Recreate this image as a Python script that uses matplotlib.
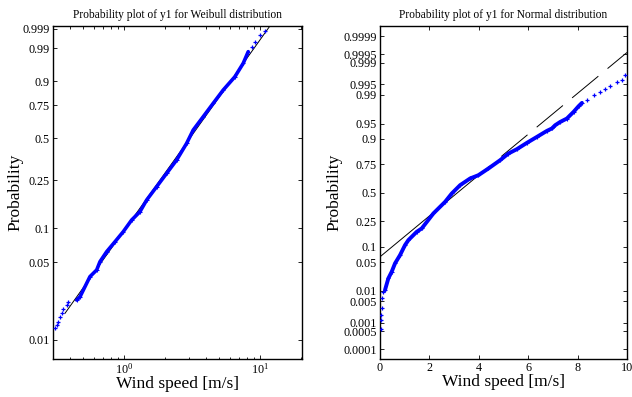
import math
import numpy as np
import matplotlib
matplotlib.use("Agg")
import matplotlib.pyplot as plt
from matplotlib.ticker import FixedLocator, FixedFormatter, NullLocator, LogLocator

# ---------------- data ----------------
# Weibull probability plot: sorted wind speeds [m/s] and plotting probabilities
weib_low_x = [0.311, 0.320, 0.329, 0.338, 0.348, 0.358, 0.379, 0.390]
weib_low_p = [0.0128, 0.0137, 0.0146, 0.0163, 0.0175, 0.0190, 0.0207, 0.0222]
weib_x = [0.449, 0.475, 0.562, 0.630, 0.666, 0.746, 0.859, 0.988, 1.139, 1.311,
          1.469, 1.740, 2.061, 2.441, 2.891, 3.233, 3.829, 4.535, 5.373, 6.550,
          7.538, 8.204]
weib_p = [0.0230, 0.0246, 0.0373, 0.0428, 0.0507, 0.0622, 0.0761, 0.0931, 0.1174, 0.1382,
          0.1732, 0.2225, 0.2834, 0.3565, 0.4651, 0.5630, 0.6654, 0.7655, 0.8530, 0.9208,
          0.9653, 0.9863]
weib_high_x = [8.70, 9.19, 10.0, 10.88]
weib_high_p = [0.9910, 0.99496, 0.99774, 0.99873]
weib_scale = 3.76      # fitted Weibull A
weib_shape = 1.739     # fitted Weibull B
weib_line_x = [0.368, 13.0]

# Normal probability plot
norm_low_x = [0.05, 0.05, 0.06, 0.08, 0.10, 0.13]
norm_low_p = [0.0006, 0.00126, 0.00185, 0.0031, 0.0062, 0.0092]
norm_x = [0.203, 0.338, 0.473, 0.608, 0.811, 1.013, 1.149, 1.486, 1.690, 2.161,
          2.635, 2.906, 3.243, 3.648, 3.985, 4.390, 4.864, 5.200, 5.540,
          5.945, 6.351, 6.756, 6.958, 7.093, 7.296, 7.566, 7.836, 8.039, 8.175]
norm_p = [0.0105, 0.0211, 0.0304, 0.0469, 0.0696, 0.1073, 0.1308, 0.1773, 0.199, 0.3124,
          0.4154, 0.4943, 0.5725, 0.6337, 0.6628, 0.7187, 0.7812, 0.825, 0.8502,
          0.8824, 0.9081, 0.9295, 0.9369, 0.946, 0.954, 0.9613, 0.9728, 0.9802, 0.9837]
norm_high_x = [8.38, 8.65, 8.92, 9.12, 9.32, 9.59, 9.80, 9.93]
norm_high_p = [0.9861, 0.9898, 0.9917, 0.9934, 0.9943, 0.9958, 0.99645, 0.9974]
norm_mu = 3.13
norm_sigma = 2.06
norm_solid_x = [0.0, 4.43]
norm_dash_x = [4.91, 10.0]

weib_yticks = [0.01, 0.05, 0.1, 0.25, 0.5, 0.75, 0.9, 0.99, 0.999]
weib_yticklabels = ["0.01", "0.05", "0.1", "0.25", "0.5", "0.75", "0.9", "0.99", "0.999"]
norm_yticks = [0.0001, 0.0005, 0.001, 0.005, 0.01, 0.05, 0.1, 0.25, 0.5, 0.75, 0.9,
               0.95, 0.99, 0.995, 0.999, 0.9995, 0.9999]
norm_yticklabels = ["0.0001", "0.0005", "0.001", "0.005", "0.01", "0.05", "0.1", "0.25",
                    "0.5", "0.75", "0.9", "0.95", "0.99", "0.995", "0.999", "0.9995", "0.9999"]
norm_xticks = [0, 2, 4, 6, 8, 10]

titles = ["Probability plot of y1 for Weibull distribution",
          "Probability plot of y1 for Normal distribution"]
xlabel = "Wind speed [m/s]"
ylabel = "Probability"

# ---------------- scales ----------------
def _clip(p):
    return np.clip(np.asarray(p, dtype=float), 1e-12, 1 - 1e-12)

def weib_fwd(p):
    p = _clip(p)
    return np.log(-np.log(1 - p))

def weib_inv(w):
    w = np.asarray(w, dtype=float)
    return 1 - np.exp(-np.exp(w))

_erf = np.frompyfunc(math.erf, 1, 1)

def norm_cdf(z):
    z = np.asarray(z, dtype=float)
    e = np.asarray(_erf(z / math.sqrt(2)), dtype=float)
    return 0.5 * (1 + e)

def norm_ppf(p):
    p = np.atleast_1d(_clip(p))
    a = [-3.969683028665376e+01, 2.209460984245205e+02, -2.759285104469687e+02,
         1.383577518672690e+02, -3.066479806614716e+01, 2.506628277459239e+00]
    b = [-5.447609879822406e+01, 1.615858368580409e+02, -1.556989798598866e+02,
         6.680131188771972e+01, -1.328068155288572e+01]
    c = [-7.784894002430293e-03, -3.223964580411365e-01, -2.400758277161838e+00,
         -2.549732539343734e+00, 4.374664141464968e+00, 2.938163982698783e+00]
    d = [7.784695709041462e-03, 3.224671290700398e-01, 2.445134137142996e+00,
         3.754408661907416e+00]
    plow = 0.02425
    z = np.empty_like(p)
    lo = p < plow
    hi = p > 1 - plow
    mid = ~(lo | hi)
    q = np.sqrt(-2 * np.log(p[lo]))
    z[lo] = (((((c[0]*q+c[1])*q+c[2])*q+c[3])*q+c[4])*q+c[5]) / ((((d[0]*q+d[1])*q+d[2])*q+d[3])*q+1)
    q = np.sqrt(-2 * np.log(1 - p[hi]))
    z[hi] = -(((((c[0]*q+c[1])*q+c[2])*q+c[3])*q+c[4])*q+c[5]) / ((((d[0]*q+d[1])*q+d[2])*q+d[3])*q+1)
    q = p[mid] - 0.5
    r = q * q
    z[mid] = (((((a[0]*r+a[1])*r+a[2])*r+a[3])*r+a[4])*r+a[5])*q / (((((b[0]*r+b[1])*r+b[2])*r+b[3])*r+b[4])*r+1)
    return z

# ---------------- style ----------------
plt.rcParams['font.family'] = ['Liberation Serif', 'DejaVu Serif']
plt.rcParams['mathtext.fontset'] = 'stix'
plt.rcParams['lines.scale_dashes'] = False

DPI = 100
fig = plt.figure(figsize=(632 / DPI, 397 / DPI), dpi=DPI)
W, H = 632, 397
ax1 = fig.add_axes([53 / W, 1 - 359 / H, 249 / W, 333 / H])
ax2 = fig.add_axes([380 / W, 1 - 359 / H, 247 / W, 333 / H])

BLUE = (0, 0, 1)
tick_fs = 8.7
label_fs = 12.5
title_fs = 8.3

def style_axes(ax):
    for s in ax.spines.values():
        s.set_linewidth(1.0)
    ax.tick_params(which='both', direction='in', top=True, right=True,
                   labelsize=tick_fs, width=0.6, pad=2.5)
    ax.tick_params(which='major', length=3.2)
    ax.tick_params(which='minor', length=1.8)

# ---------------- left: Weibull ----------------
ax1.set_xscale('log')
ax1.set_yscale('function', functions=(weib_fwd, weib_inv))
ax1.set_xlim(0.3006, 20.4)
ax1.set_ylim(float(weib_inv(-5.0)), float(weib_inv(1.9956)))

lx = np.geomspace(weib_line_x[0], weib_line_x[1], 200)
ax1.plot(lx, 1 - np.exp(-(lx / weib_scale) ** weib_shape), color='black', lw=0.7, zorder=2)
ax1.plot(weib_x, weib_p, color=BLUE, lw=2.6, solid_capstyle='round', zorder=3)
ax1.plot(weib_x, weib_p, '+', color=BLUE, ms=3.5, mew=0.8, zorder=3)
ax1.plot(weib_low_x, weib_low_p, '+', color=BLUE, ms=3.5, mew=0.9, zorder=3)
ax1.plot(weib_high_x, weib_high_p, '+', color=BLUE, ms=3.5, mew=0.9, zorder=3)

ax1.yaxis.set_major_locator(FixedLocator(weib_yticks))
ax1.yaxis.set_major_formatter(FixedFormatter(weib_yticklabels))
ax1.yaxis.set_minor_locator(NullLocator())
ax1.xaxis.set_major_locator(LogLocator(base=10, numticks=10))
ax1.xaxis.set_minor_locator(LogLocator(base=10, subs=np.arange(2, 10), numticks=20))
style_axes(ax1)
ax1.set_title(titles[0], fontsize=title_fs, pad=6)
ax1.set_xlabel(xlabel, fontsize=label_fs)
ax1.set_ylabel(ylabel, fontsize=label_fs)
ax1.xaxis.set_label_coords(0.5, -0.052)
ax1.yaxis.set_label_coords(-0.12, 0.5)

# ---------------- right: Normal ----------------
ax2.set_yscale('function', functions=(norm_ppf, norm_cdf))
ax2.set_xlim(0, 10)
ax2.set_ylim(float(norm_cdf(-3.947)), float(norm_cdf(3.964)))

sx = np.linspace(norm_solid_x[0], norm_solid_x[1], 100)
ax2.plot(sx, norm_cdf((sx - norm_mu) / norm_sigma), color='black', lw=0.7, zorder=2)
dx = np.linspace(norm_dash_x[0], norm_dash_x[1], 200)
ax2.plot(dx, norm_cdf((dx - norm_mu) / norm_sigma), color='black', lw=0.7,
         linestyle=(0, (24.5, 8.6)), zorder=2)
ax2.plot(norm_x, norm_p, color=BLUE, lw=2.8, solid_capstyle='round', zorder=3)
ax2.plot(norm_x, norm_p, '+', color=BLUE, ms=3.5, mew=0.8, zorder=3)
ax2.plot(norm_low_x, norm_low_p, '+', color=BLUE, ms=3.5, mew=0.9, zorder=3)
ax2.plot(norm_high_x, norm_high_p, '+', color=BLUE, ms=3.0, mew=0.9, zorder=3)

ax2.yaxis.set_major_locator(FixedLocator(norm_yticks))
ax2.yaxis.set_major_formatter(FixedFormatter(norm_yticklabels))
ax2.yaxis.set_minor_locator(NullLocator())
ax2.set_xticks(norm_xticks)
ax2.xaxis.set_minor_locator(NullLocator())
style_axes(ax2)
ax2.set_title(titles[1], fontsize=title_fs, pad=6)
ax2.set_xlabel(xlabel, fontsize=label_fs)
ax2.set_ylabel(ylabel, fontsize=label_fs)
ax2.xaxis.set_label_coords(0.5, -0.045)
ax2.yaxis.set_label_coords(-0.15, 0.5)

fig.savefig("out.png", dpi=DPI)
